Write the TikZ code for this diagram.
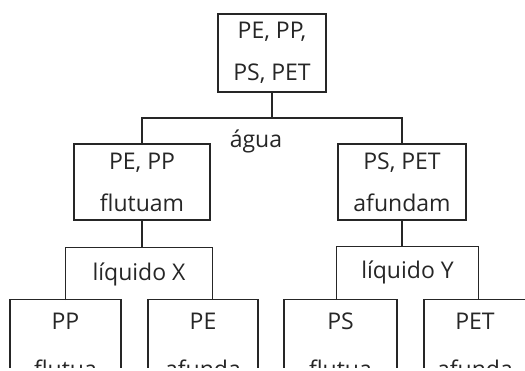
\documentclass[tikz,border=0pt]{standalone}
\usepackage{fontspec}
\setmainfont{Open Sans}
\usepackage{tikz}
\tikzset{
  every tree line/.style={draw=black!85,line width=1.1pt},
  sortbox/.style={draw=black!85,line width=1.1pt,align=center,inner sep=0pt,
    text=black!85,font=\fontsize{23}{42}\selectfont},
  sortlabel/.style={inner sep=0pt,text=black!85,font=\fontsize{23}{28}\selectfont},
}
\begin{document}
\begin{tikzpicture}[x=1pt,y=-1pt,
  frame/.style={sortlabel,minimum height=52pt}
]
\useasboundingbox (0,0) rectangle (525,371);
\clip (0,0) rectangle (525,368);
\node[sortbox,minimum width=108pt,minimum height=78pt] (mix) at (272,53) {PE, PP,\\PS, PET};
\node[sortbox,minimum width=136pt,minimum height=76pt] (float) at (142,182) {PE, PP\\flutuam};
\node[sortbox,minimum width=128pt,minimum height=76pt] (sink) at (402,182) {PS, PET\\afundam};
\coordinate (fork) at (272,118);
\node[sortlabel,anchor=base] (agua) at (256,148) {água};
\draw[every tree line] (mix.south) -- (fork);
\draw[every tree line] (float.north) |- (fork) -| (sink.north);
% second liquid
\node[frame,minimum width=146pt] (liqX) at (139,274) {líquido X};
\node[frame,minimum width=141pt] (liqY) at (407.5,272.5) {líquido Y};
\draw[every tree line] (float.south) -- (float.south |- liqX.north);
\draw[every tree line] (sink.south) -- (sink.south |- liqY.north);
\foreach \f in {liqX,liqY}
  \draw[every tree line] (\f.south west) |- (\f.north east) -- (\f.south east);
\foreach \n/\x/\w/\t in {pp/65.5/111/{PP\\[6pt]flutua},pe/203/110/{PE\\[6pt]afunda},
    ps/340.5/113/{PS\\[6pt]flutua},pet/475/102/{PET\\[6pt]afunda}}
  \node[sortbox,minimum width=\w pt,minimum height=92pt] (\n) at (\x,345.5) {\t};
\end{tikzpicture}
\end{document}
